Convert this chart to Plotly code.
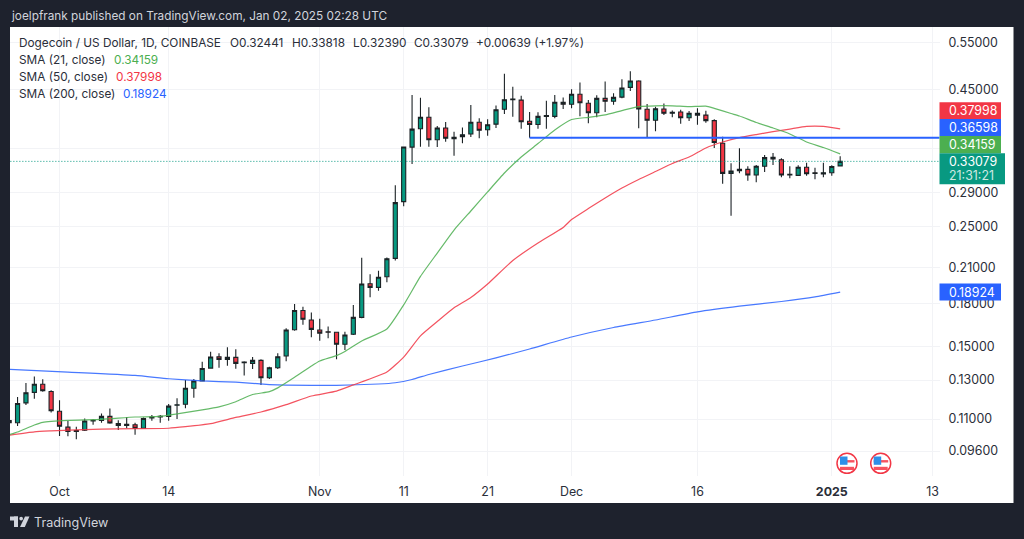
import pandas as pd
import plotly.graph_objects as go

# Daily candles, Sep 25 2024 to Jan 2 2025
dates = pd.date_range("2024-09-25", periods=100, freq="D")

opens = [.1093,.1083,.1179,.1233,.1277,.1238,.1138,.1063,.1048,.1049,
         .1092,.1094,.1113,.1080,.1076,.1074,.1058,.1105,.1110,.1113,
         .1167,.1172,.1255,.1295,.1368,.1436,.1420,.1432,.1404,.1396,
         .1414,.1313,.1370,.1440,.1611,.1750,.1680,.1610,.1598,.1594,
         .1515,.1581,.1699,.1961,.1931,.2021,.2186,.2785,.3516,.3802,
         .3993,.3628,.3814,.3666,.3675,.3719,.3910,.3787,.3878,.4132,
         .4316,.4297,.3925,.3871,.4009,.4009,.4258,.4222,.4405,.4240,
         .4072,.4330,.4275,.4353,.4538,.4662,.4132,.3942,.4136,.4063,
         .4084,.3986,.4063,.4031,.3936,.3575,.3143,.3197,.3197,.3120,
         .3240,.3366,.3331,.3129,.3116,.3226,.3151,.3134,.3151,.32441]
highs = [.1105,.1209,.1284,.1319,.1304,.1245,.1193,.1091,.1065,.1103,
         .1099,.1127,.1151,.1095,.1110,.1083,.1108,.1119,.1119,.1173,
         .1203,.1300,.1305,.1406,.1467,.1457,.1495,.1482,.1408,.1434,
         .1420,.1376,.1457,.1622,.1799,.1778,.1734,.1689,.1634,.1596,
         .1598,.1791,.2191,.2042,.2074,.2195,.2987,.3522,.4391,.4340,
         .4168,.3848,.3913,.3755,.3824,.4210,.3975,.3958,.4198,.4810,
         .4550,.4378,.4083,.4078,.4285,.4391,.4347,.4500,.4635,.4297,
         .4385,.4654,.4423,.4696,.4860,.4679,.4225,.4177,.4237,.4111,
         .4125,.4101,.4149,.4106,.3958,.3674,.3280,.3500,.3240,.3257,
         .3398,.3427,.3351,.3240,.3254,.3290,.3219,.3290,.3254,.33818]
lows = [.1073,.1068,.1168,.1200,.1236,.1131,.1024,.1022,.1009,.1046,
        .1074,.1083,.1079,.1050,.1058,.1029,.1056,.1092,.1083,.1092,
        .1101,.1152,.1205,.1295,.1366,.1370,.1382,.1364,.1326,.1362,
        .1273,.1306,.1362,.1408,.1605,.1647,.1560,.1538,.1554,.1420,
        .1478,.1576,.1692,.1851,.1904,.1973,.2167,.2731,.3271,.3522,
        .3522,.3516,.3597,.3388,.3575,.3672,.3650,.3691,.3814,.4049,
        .4002,.3802,.3660,.3802,.3802,.3975,.4136,.4149,.4009,.3892,
        .3992,.4084,.4213,.4330,.4467,.3809,.3660,.3761,.4031,.3992,
        .3883,.3930,.3868,.3903,.3503,.3006,.2622,.3143,.3046,.3025,
        .3161,.3257,.3090,.3077,.3111,.3111,.3064,.3090,.3111,.32390]
closes = [.1083,.1176,.1231,.1277,.1242,.1140,.1067,.1044,.1044,.1091,
          .1095,.1113,.1082,.1071,.1071,.1058,.1103,.1110,.1113,.1163,
          .1170,.1255,.1295,.1366,.1434,.1420,.1432,.1396,.1400,.1414,
          .1313,.1370,.1436,.1610,.1750,.1685,.1614,.1588,.1594,.1515,
          .1576,.1699,.1959,.1931,.2016,.2182,.2773,.3518,.3797,.3993,
          .3628,.3814,.3650,.3644,.3707,.3910,.3777,.3868,.4125,.4304,
          .4304,.3919,.3871,.4009,.4021,.4258,.4222,.4405,.4249,.4072,
          .4330,.4275,.4347,.4525,.4662,.4136,.3942,.4141,.4063,.4080,
          .3986,.4063,.4031,.3936,.3586,.3143,.3174,.3178,.3120,.3240,
          .3361,.3342,.3120,.3120,.3226,.3137,.3143,.3151,.3236,.33079]

sma21_dates = ["2024-09-25","2024-09-26","2024-09-28","2024-09-29","2024-10-02","2024-10-06",
               "2024-10-10","2024-10-13","2024-10-15","2024-10-18","2024-10-20","2024-10-22",
               "2024-10-24","2024-10-26","2024-10-27","2024-10-29","2024-10-31","2024-11-01",
               "2024-11-03","2024-11-04","2024-11-06","2024-11-09","2024-11-11","2024-11-13",
               "2024-11-15","2024-11-17","2024-11-19","2024-11-21","2024-11-23","2024-11-25",
               "2024-11-27","2024-11-29","2024-12-01","2024-12-03","2024-12-05","2024-12-07",
               "2024-12-09","2024-12-11","2024-12-13","2024-12-15","2024-12-17","2024-12-18",
               "2024-12-20","2024-12-21","2024-12-23","2024-12-25","2024-12-27","2024-12-29",
               "2024-12-31","2025-01-02"]
sma21 = [.1029,.1041,.1073,.1085,.1094,.1099,.1110,.1113,.1125,.1144,.1159,.1185,
         .1222,.1237,.1257,.1315,.1380,.1410,.1443,.1469,.1536,.1617,.1792,.2024,
         .2236,.2467,.2676,.2903,.3147,.3370,.3569,.3782,.3955,.3993,.4035,.4109,
         .4180,.4194,.4194,.4180,.4189,.4148,.4058,.4016,.3905,.3814,.3719,.3593,
         .3509,.34159]

sma50_dates = ["2024-09-25","2024-09-28","2024-09-30","2024-10-06","2024-10-10","2024-10-14",
               "2024-10-16","2024-10-19","2024-10-22","2024-10-25","2024-10-28","2024-10-31",
               "2024-11-03","2024-11-05","2024-11-09","2024-11-11","2024-11-13","2024-11-15",
               "2024-11-17","2024-11-19","2024-11-21","2024-11-24","2024-11-27","2024-11-30",
               "2024-12-01","2024-12-03","2024-12-05","2024-12-07","2024-12-09","2024-12-11",
               "2024-12-13","2024-12-15","2024-12-17","2024-12-19","2024-12-21","2024-12-23",
               "2024-12-25","2024-12-27","2024-12-29","2024-12-31","2025-01-02"]
sma50 = [.1027,.1042,.1046,.1054,.1056,.1058,.1065,.1079,.1108,.1134,.1170,.1214,
         .1240,.1273,.1345,.1434,.1570,.1669,.1770,.1849,.1959,.2166,.2334,.2494,
         .2580,.2704,.2829,.2952,.3062,.3167,.3278,.3370,.3503,.3593,.3660,.3709,
         .3755,.3797,.3840,.3840,.37998]

sma200_dates = ["2024-09-25","2024-10-02","2024-10-10","2024-10-14","2024-10-18","2024-10-22",
                "2024-10-26","2024-10-28","2024-11-03","2024-11-08","2024-11-10","2024-11-12",
                "2024-11-14","2024-11-18","2024-11-22","2024-11-26","2024-12-01","2024-12-06",
                "2024-12-11","2024-12-16","2024-12-21","2024-12-26","2024-12-30","2025-01-02"]
sma200 = [.1361,.1345,.1326,.1307,.1295,.1288,.1275,.1272,.1271,.1278,.1285,.1303,
          .1331,.1380,.1429,.1484,.1562,.1627,.1680,.1739,.1782,.1818,.1854,.18924]

level_start = "2024-11-26"
level_end = "2025-01-20"
level_price = .36598
last_price = .33079

price_ticks = [.55, .45, .35, .29, .25, .21, .18, .15, .13, .11, .096]
price_labels = ["0.55000", "0.45000", "", "0.29000", "0.25000", "0.21000", "0.18000",
                "0.15000", "0.13000", "0.11000", "0.09600"]
time_ticks = ["2024-10-01", "2024-10-14", "2024-11-01", "2024-11-11", "2024-11-21",
              "2024-12-01", "2024-12-16", "2025-01-01", "2025-01-13"]
time_labels = ["Oct", "14", "Nov", "11", "21", "Dec", "16", "<b>2025</b>", "13"]

W, H = 1024, 539
FONT = "Inter"
DARK = "#1e222d"
INK = "#2a2e39"
GREEN = "#089981"
RED = "#f23645"
BLUE = "#2962ff"
SMA_GREEN = "#4caf50"
GRID = "#f2f3f6"


def px(x):
    return x / W


def py(y):
    return 1 - y / H


def rect(x0, y0, x1, y1, color):
    return dict(type="rect", xref="paper", yref="paper", x0=px(x0), y0=py(y0), x1=px(x1), y1=py(y1),
                fillcolor=color, line=dict(width=0), layer="above")


def label(x, y, text, color=INK, size=11.8, anchor="left"):
    return dict(xref="paper", yref="paper", x=px(x), y=py(y), text=text, showarrow=False,
                xanchor=anchor, yanchor="middle", align="left", borderpad=0,
                font=dict(family=FONT, size=size, color=color))


def sma_line(x, y, color):
    return go.Scatter(x=x, y=y, mode="lines", opacity=0.85,
                      line=dict(color=color, width=1.2, shape="spline", smoothing=0.5))


fig = go.Figure()

fig.add_trace(go.Candlestick(
    x=dates, open=opens, high=highs, low=lows, close=closes,
    increasing=dict(fillcolor=GREEN, line=dict(color="#1c2326", width=1.1)),
    decreasing=dict(fillcolor=RED, line=dict(color="#1c2326", width=1.1)),
    hoverinfo="skip",
))
fig.add_trace(sma_line(sma200_dates, sma200, BLUE))
fig.add_trace(sma_line(sma50_dates, sma50, RED))
fig.add_trace(sma_line(sma21_dates, sma21, SMA_GREEN))
fig.add_trace(go.Scatter(x=[level_start, level_end], y=[level_price, level_price], mode="lines",
                         line=dict(color=BLUE, width=2)))
fig.add_trace(go.Scatter(x=[dates[0] - pd.Timedelta(days=2), level_end], y=[last_price, last_price], mode="lines",
                         line=dict(color=GREEN, width=1, dash="1px 2px")))

shapes = [rect(10, 27, 1013.5, 503, "white")]
shapes[0]["layer"] = "below"

# right axis price tags
tags = [(102.3, 119, 1001, RED), (119, 136, 1001, BLUE), (136, 153.3, 1001, SMA_GREEN),
        (153.3, 184.3, 1005, GREEN), (283.5, 300.5, 1001, BLUE)]
for top, bottom, right, color in tags:
    shapes.append(rect(939.5, top, right, bottom, color))

# economic event flags
for cx in (847, 880.7):
    cy = 463.3
    shapes.append(dict(type="circle", xref="paper", yref="paper", x0=px(cx - 10), x1=px(cx + 10),
                       y0=py(cy + 10), y1=py(cy - 10), fillcolor="white",
                       line=dict(color=RED, width=1.5), layer="above"))
    shapes.append(rect(cx - 7, cy - 3.2, cx + 7.5, cy - 0.8, "#f7525f"))
    shapes.append(rect(cx - 7, cy + 3.5, cx + 7, cy + 6.7, "#f7525f"))
    shapes.append(rect(cx - 7, cy - 6.8, cx + 0.5, cy + 1.5, "#2e8fe8"))

# TradingView logo
shapes.append(rect(10, 516.5, 18, 520.5, "#d1d4dc"))
shapes.append(rect(14, 516.5, 18, 527, "#d1d4dc"))
shapes.append(dict(type="circle", xref="paper", yref="paper", x0=px(19.3), x1=px(23), y0=py(520.5), y1=py(516.7),
                   fillcolor="#d1d4dc", line=dict(width=0), layer="above"))
shapes.append(dict(type="path", xref="paper", yref="paper", layer="above", fillcolor="#d1d4dc", line=dict(width=0),
                   path=f"M{px(25)},{py(516.5)} L{px(29.5)},{py(516.5)} L{px(24.8)},{py(527)} "
                        f"L{px(20)},{py(527)} Z"))

annotations = [
    label(10, 15.8, "joelpfrank published on TradingView.com, Jan 02, 2025 02:28 UTC", "#d1d4dc"),
    label(18, 43, "Dogecoin / US Dollar, 1D, COINBASE"),
    label(228.5, 43, "O0.32441"),
    label(290.5, 43, "H0.33818"),
    label(351.5, 43, "L0.32390"),
    label(413, 43, "C0.33079"),
    label(475, 43, "+0.00639 (+1.97%)"),
    label(18, 60, "SMA (21, close)"),
    label(112.5, 60, "0.34159", SMA_GREEN),
    label(18, 77, "SMA (50, close)"),
    label(115, 77, "0.37998", RED),
    label(18, 94, "SMA (200, close)"),
    label(122, 94, "0.18924", BLUE),
    label(948, 110.8, "0.37998", "white", 12.4),
    label(948, 127.5, "0.36598", "white", 12.4),
    label(948, 144.7, "0.34159", "white", 12.4),
    label(948, 161.5, "0.33079", "white", 12.4),
    label(948, 175.8, "21:31:21", "#cfe9e3", 12.4),
    label(948, 292, "0.18924", "white", 12.4),
    label(33, 522, "TradingView", "#d1d4dc", 12.6),
]

fig.update_layout(
    width=W,
    height=H,
    margin=dict(l=0, r=0, t=0, b=0),
    paper_bgcolor=DARK,
    plot_bgcolor="white",
    showlegend=False,
    hovermode=False,
    shapes=shapes,
    annotations=annotations,
    font=dict(family=FONT, size=12.4, color=INK),
)
fig.update_xaxes(
    domain=[px(10), px(939.5)],
    type="date",
    range=["2024-09-25 02:24", "2025-01-13 20:00"],
    rangeslider_visible=False,
    tickmode="array",
    tickvals=time_ticks,
    ticktext=time_labels,
    showgrid=True,
    gridcolor=GRID,
    gridwidth=1,
    zeroline=False,
    showline=False,
    ticks="",
    ticklabelstandoff=7,
    tickfont=dict(family=FONT, size=12.4, color=INK),
)
fig.update_yaxes(
    domain=[py(476), py(27)],
    type="log",
    range=[-1.0641, -0.2312],
    side="right",
    tickmode="array",
    tickvals=price_ticks,
    ticktext=price_labels,
    showgrid=True,
    gridcolor=GRID,
    gridwidth=1,
    zeroline=False,
    showline=False,
    ticks="",
    ticklabelstandoff=8,
    tickfont=dict(family=FONT, size=12.4, color=INK),
)

# the default page leaves an 8px body margin
fig.write_html("out.html", config=dict(displayModeBar=False),
               post_script="document.body.style.margin='0';document.body.style.overflow='hidden';")
